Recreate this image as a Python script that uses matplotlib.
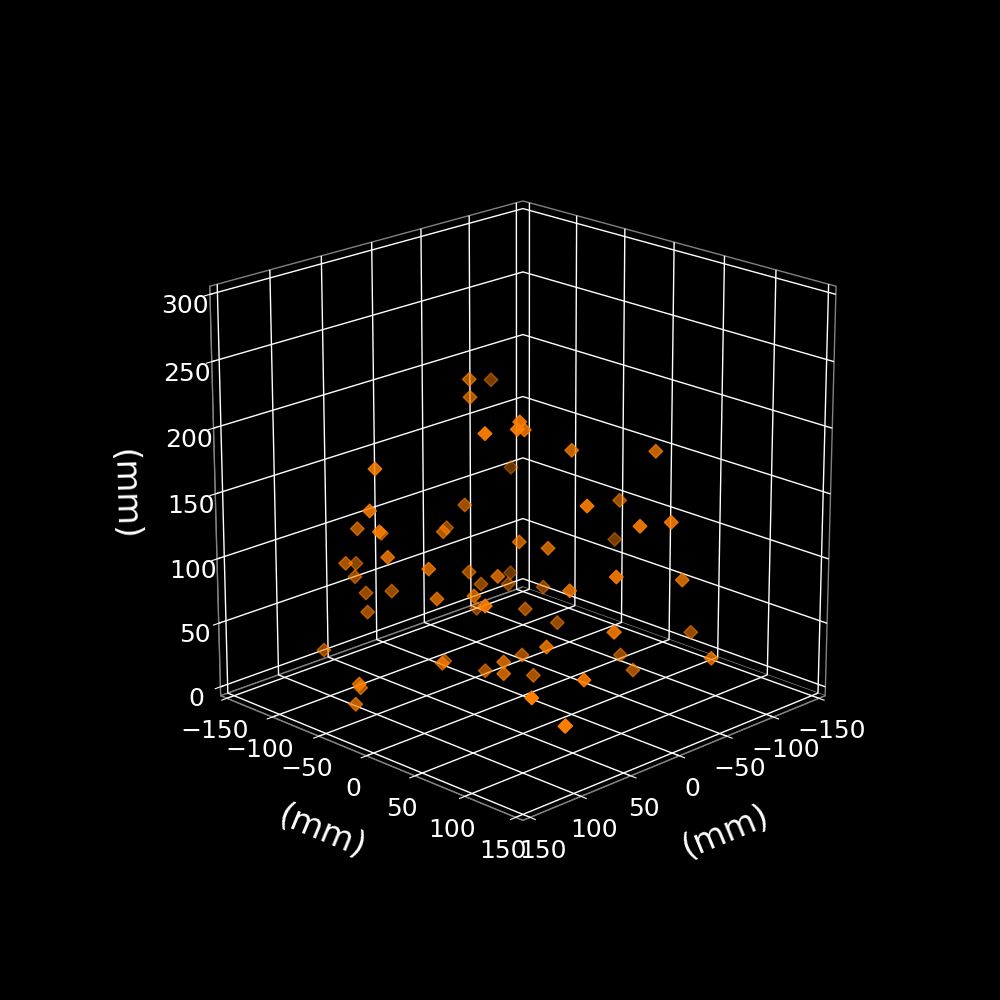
import numpy as np
import matplotlib
matplotlib.use('Agg')
import matplotlib.pyplot as plt

x = [27.1, -73.1, 26.7, 138.1, 91.5, 107.7, 59.3, -113.5, 150.0, 0.1, 150.0, 84.7, 131.3, 43.6, -19.8, 40.8, 127.3, 76.7, 26.7, 43.3, 92.3, 16.8, 17.3, -1.9, 37.6, 24.0, 42.7, -113.2, -37.9, -82.2, -85.9, 73.6, 51.3, 40.0, 123.4, -50.3, -31.3, 60.5, 5.6, 41.8, -29.6, 48.2, 39.8, -2.4, 39.8, -21.2, 141.4, 113.6, 85.4, 109.4, 20.7, -36.6, 74.0, -80.2, 35.6, 1.9, -149.9, 44.2, -35.1, 36.6, -63.2, -108.8, -46.8, -133.7, -95.5, -66.1, -80.8, 59.8, 108.9, 99.1]
y = [-27.1, -106.8, -26.8, 101.9, 88.4, 102.3, 60.7, -126.4, 5.2, -60.2, -0.8, -84.8, -11.3, -103.6, -100.2, -40.8, -7.3, -106.7, -150.0, -133.2, -2.3, 13.1, 42.7, -58.1, -127.6, -114.0, 17.2, -126.7, -82.3, -97.9, -64.2, -13.6, -111.2, -10.0, 86.6, -99.7, -28.8, -149.9, -76.8, -41.7, -30.5, 71.9, 20.2, -41.8, 20.2, -10.3, 149.9, -53.6, -82.9, -62.3, 69.2, 96.5, 136.1, 20.1, 149.9, 148.0, -51.1, 135.9, 125.1, 83.3, -26.9, -11.1, 47.0, 43.6, 7.6, 126.0, 34.6, 120.3, 149.9, 140.9]
z = [236.8, 194.7, 223.3, 254.0, 247.9, 249.8, 227.6, 110.7, 207.7, 126.2, 175.3, 123.3, 152.3, 104.1, 92.9, 121.0, 133.2, 88.6, 63.7, 62.0, 116.3, 121.0, 124.1, 73.8, 49.1, 50.6, 102.7, 24.9, 48.0, 31.8, 37.5, 85.4, 42.2, 79.5, 121.3, 20.3, 44.6, 3.6, 0.0, 18.6, 8.0, 65.4, 36.8, 0.0, 27.7, 0.0, 76.7, 19.7, 0.0, 0.1, 205.3, 197.2, 194.5, 129.8, 173.4, 167.1, 62.4, 134.6, 108.0, 108.0, 25.4, 9.5, 43.0, 17.7, 0.1, 39.6, 0.0, 57.6, 46.1, 40.8]
xy_ticks = [-150, -100, -50, 0, 50, 100, 150]
z_ticks = [0, 50, 100, 150, 200, 250, 300]

plt.style.use('dark_background')
fig = plt.figure(figsize=(10, 10), dpi=100)
ax = fig.add_subplot(projection='3d')
ax.view_init(elev=19.8, azim=45)
ax.set_box_aspect((1, 1, 1), zoom=0.95)

# points nearer the viewer are brighter, same idea as depthshade but less dark at the back
depth = np.array(x) + np.array(y)
alpha = 0.42 + 0.58 * (depth - depth.min()) / (depth.max() - depth.min())
colors = [(1.0, 0.5, 0.0, a) for a in alpha]
ax.scatter(x, y, z, marker='D', s=48, c=colors, linewidths=1, depthshade=False)

ax.set_xlim(-157, 157)
ax.set_ylim(-157, 157)
ax.set_zlim(-7, 306)
ax.set_xticks(xy_ticks)
ax.set_yticks(xy_ticks)
ax.set_zticks(z_ticks)
ax.tick_params(labelsize=18, colors='white')

for axis in (ax.xaxis, ax.yaxis, ax.zaxis):
    axis.set_pane_color((0, 0, 0, 1))
    axis.pane.set_edgecolor('gray')
    axis.line.set_color('gray')
    axis.set_rotate_label(True)
    axis._axinfo['grid']['color'] = 'white'
    axis._axinfo['grid']['linewidth'] = 1.0

ax.set_xlabel('(mm)', fontsize=24, labelpad=20)
ax.set_ylabel('(mm)', fontsize=24, labelpad=20)
ax.set_zlabel('(mm)', fontsize=24, labelpad=22)

fig.savefig('out.png', dpi=100, facecolor='black')
